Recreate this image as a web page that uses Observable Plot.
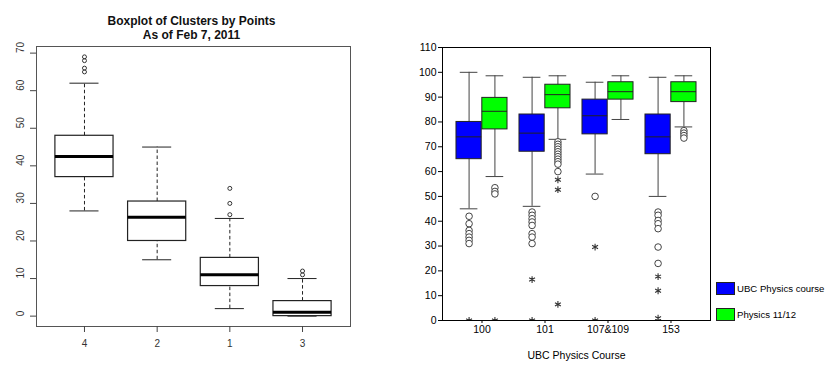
<!DOCTYPE html>
<html><head><meta charset="utf-8">
<script src="https://cdn.jsdelivr.net/npm/d3@7"></script>
<script src="https://cdn.jsdelivr.net/npm/@observablehq/plot@0.6"></script>
<style>
html,body{margin:0;padding:0;background:#fff;}
#wrap{position:relative;width:827px;height:365px;overflow:hidden;font-family:"Liberation Sans",Arial,sans-serif;background:#fff;}
#left,#right{position:absolute;top:0;}
#left{left:0;} #right{left:400px;}
.item{position:absolute;left:716px;display:flex;align-items:center;font-size:9.6px;color:#000;white-space:nowrap;}
.sw{width:17px;height:11px;border:1px solid #222;margin-right:2px;}
</style></head><body>
<div id="wrap"><div id="left"></div><div id="right"></div><div id="legend"></div></div>
<script>
// ---------- Left chart: Boxplot of Clusters by Points ----------
const leftTitle = ["Boxplot of Clusters by Points", "As of Feb 7, 2011"];
const clusters = ["4", "2", "1", "3"];
const clLow  = [28, 15, 2, 0];
const clQ1   = [37, 20, 8, 0];
const clMed  = [42.5, 26.3, 11, 1];
const clQ3   = [48, 30.5, 15.5, 4];
const clHigh = [62, 45, 26, 10];
const clOutliers = [[65, 66, 68, 69], [], [27, 30, 34], [11, 12]];
const clYTicks = [0, 10, 20, 30, 40, 50, 60, 70];

// ---------- Right chart: UBC Physics Course ----------
const courses = ["100", "101", "107&109", "153"];
const series = ["UBC Physics course", "Physics 11/12"];
const seriesColors = ["#0000ff", "#00ff00"];
const xTitle = "UBC Physics Course";
const ubcLow  = [45, 46, 59, 50];
const ubcQ1   = [65, 68, 75, 67];
const ubcMed  = [74, 75.5, 82.5, 74];
const ubcQ3   = [80, 83, 89, 83];
const ubcHigh = [100, 98, 96, 98];
const ubcCircles = [[42, 39, 36.3, 35, 33.6, 32.3, 31], [43.7, 42.4, 41, 39.7, 38.3, 35, 33.6, 31], [50], [43.7, 42.4, 40.3, 39, 37, 29.6, 23]];
const ubcStars = [[0], [16.5, 0], [29.6, 0], [17.7, 12, 0.9]];
const hsLow  = [58, 73, 81, 78];
const hsQ1   = [77, 85.5, 89, 88];
const hsMed  = [84.3, 91, 92.2, 92.2];
const hsQ3   = [89.7, 95, 96, 96];
const hsHigh = [98.6, 98.6, 98.6, 98.6];
const hsCircles = [[53.5, 52, 51], [72, 71, 70, 69, 68, 67, 66, 65, 64, 63, 60], [], [76.5, 75.5, 74.5, 73.5]];
const hsStars = [[0], [56.7, 52.7, 6.5], [], []];
const rYTicks = [0, 10, 20, 30, 40, 50, 60, 70, 80, 90, 100, 110];

const FONT = "Liberation Sans, Arial, sans-serif";

// ----- left -----
const clRows = clusters.map((c, i) => ({pos: i + 1, c, low: clLow[i], q1: clQ1[i], med: clMed[i], q3: clQ3[i], high: clHigh[i]}));
const clOut = clusters.flatMap((c, i) => clOutliers[i].map(v => ({pos: i + 1, v})));
const BW = 0.4, CAP = 0.2;
const leftPlot = Plot.plot({
  width: 360, height: 365,
  marginLeft: 36, marginTop: 46, marginRight: 10, marginBottom: 39,
  style: {fontFamily: FONT, background: "white", overflow: "visible"},
  x: {domain: [0.34, 4.66], axis: null, label: null},
  y: {domain: [-2.76, 71.76], axis: null, label: null},
  marks: [
    Plot.ruleX(clRows, {x: "pos", y1: "q3", y2: "high", stroke: "#222", strokeDasharray: "3.5,2.5"}),
    Plot.ruleX(clRows, {x: "pos", y1: "low", y2: "q1", stroke: "#222", strokeDasharray: "3.5,2.5"}),
    Plot.ruleY(clRows, {y: "high", x1: d => d.pos - CAP, x2: d => d.pos + CAP, stroke: "#222"}),
    Plot.ruleY(clRows, {y: "low", x1: d => d.pos - CAP, x2: d => d.pos + CAP, stroke: "#222"}),
    Plot.rect(clRows, {x1: d => d.pos - BW, x2: d => d.pos + BW, y1: "q1", y2: "q3", fill: "white", stroke: "#222", strokeWidth: 1.2}),
    Plot.ruleY(clRows, {y: "med", x1: d => d.pos - BW, x2: d => d.pos + BW, stroke: "#000", strokeWidth: 3}),
    Plot.dot(clOut, {x: "pos", y: "v", r: 2, stroke: "#333", strokeWidth: 1}),
    Plot.frame({stroke: "#555"}),
    Plot.axisY({ticks: clYTicks, tickSize: 6, tickFormat: () => "", stroke: "#444", label: null}),
    Plot.text(clYTicks, {y: d => d, frameAnchor: "left", dx: -16, rotate: -90, text: d => String(d), fontSize: 10, fill: "#333"}),
    Plot.axisX({ticks: [1, 2, 3, 4], tickFormat: i => clusters[i - 1], tickSize: 6, tickPadding: 7, fontSize: 10, stroke: "#444", fill: "#333", label: null}),
    Plot.text([leftTitle[0]], {frameAnchor: "top", dx: -2, dy: -30, fontWeight: "bold", fontSize: 12, fill: "#111"}),
    Plot.text([leftTitle[1]], {frameAnchor: "top", dx: -2, dy: -16, fontWeight: "bold", fontSize: 12, fill: "#111"})
  ]
});
document.getElementById("left").append(leftPlot);

// ----- right -----
const OFF = 0.205, HB = 0.2, RC = 0.14;
const stats = [
  {low: ubcLow, q1: ubcQ1, med: ubcMed, q3: ubcQ3, high: ubcHigh, circ: ubcCircles, stars: ubcStars, off: -OFF},
  {low: hsLow, q1: hsQ1, med: hsMed, q3: hsQ3, high: hsHigh, circ: hsCircles, stars: hsStars, off: OFF}
];
const rRows = [], rCirc = [], rStars = [];
courses.forEach((c, i) => {
  stats.forEach((s, k) => {
    const pos = i + 1 + s.off;
    rRows.push({pos, ser: series[k], low: s.low[i], q1: s.q1[i], med: s.med[i], q3: s.q3[i], high: s.high[i]});
    s.circ[i].forEach(v => rCirc.push({pos, v}));
    s.stars[i].forEach(v => rStars.push({pos, v}));
  });
});
const rightPlot = Plot.plot({
  width: 427, height: 365,
  marginLeft: 42, marginTop: 47, marginRight: 117, marginBottom: 45,
  style: {fontFamily: FONT, background: "white", overflow: "visible"},
  x: {domain: [0.373, 4.627], axis: null, label: null},
  y: {domain: [0, 110], axis: null, label: null},
  color: {domain: series, range: seriesColors},
  marks: [
    Plot.ruleX(rRows, {x: "pos", y1: "q3", y2: "high", stroke: "#444"}),
    Plot.ruleX(rRows, {x: "pos", y1: "low", y2: "q1", stroke: "#444"}),
    Plot.ruleY(rRows, {y: "high", x1: d => d.pos - RC, x2: d => d.pos + RC, stroke: "#444"}),
    Plot.ruleY(rRows, {y: "low", x1: d => d.pos - RC, x2: d => d.pos + RC, stroke: "#444"}),
    Plot.rect(rRows, {x1: d => d.pos - HB, x2: d => d.pos + HB, y1: "q1", y2: "q3", fill: "ser", stroke: "#222"}),
    Plot.ruleY(rRows, {y: "med", x1: d => d.pos - HB, x2: d => d.pos + HB, stroke: "#222"}),
    Plot.dot(rCirc, {x: "pos", y: "v", r: 3.3, stroke: "#444", fill: "white", strokeWidth: 1}),
    Plot.dot(rStars, {x: "pos", y: "v", r: 3.2, symbol: "asterisk", stroke: "#333", strokeWidth: 1.1, clip: true}),
    Plot.frame({stroke: "#000"}),
    Plot.axisY({ticks: rYTicks, tickSize: 4, tickPadding: 2, fontSize: 10.5, stroke: "#000", fill: "#000", label: null}),
    Plot.axisX({ticks: [1, 2, 3, 4], tickFormat: i => courses[i - 1], tickSize: 3, tickPadding: 2, fontSize: 10.5, stroke: "#000", fill: "#000", label: null}),
    Plot.text([xTitle], {frameAnchor: "bottom", dy: 38, fontSize: 10.5, fill: "#000"})
  ]
});
document.getElementById("right").append(rightPlot);

// ----- legend -----
const legend = document.getElementById("legend");
const legTops = [282, 308];
series.forEach((s, k) => {
  const item = document.createElement("div");
  item.className = "item";
  item.style.top = legTops[k] + "px";
  const sw = document.createElement("div");
  sw.className = "sw";
  sw.style.background = seriesColors[k];
  const tx = document.createElement("span");
  tx.textContent = s;
  item.append(sw, tx);
  legend.append(item);
});
</script>
</body></html>
